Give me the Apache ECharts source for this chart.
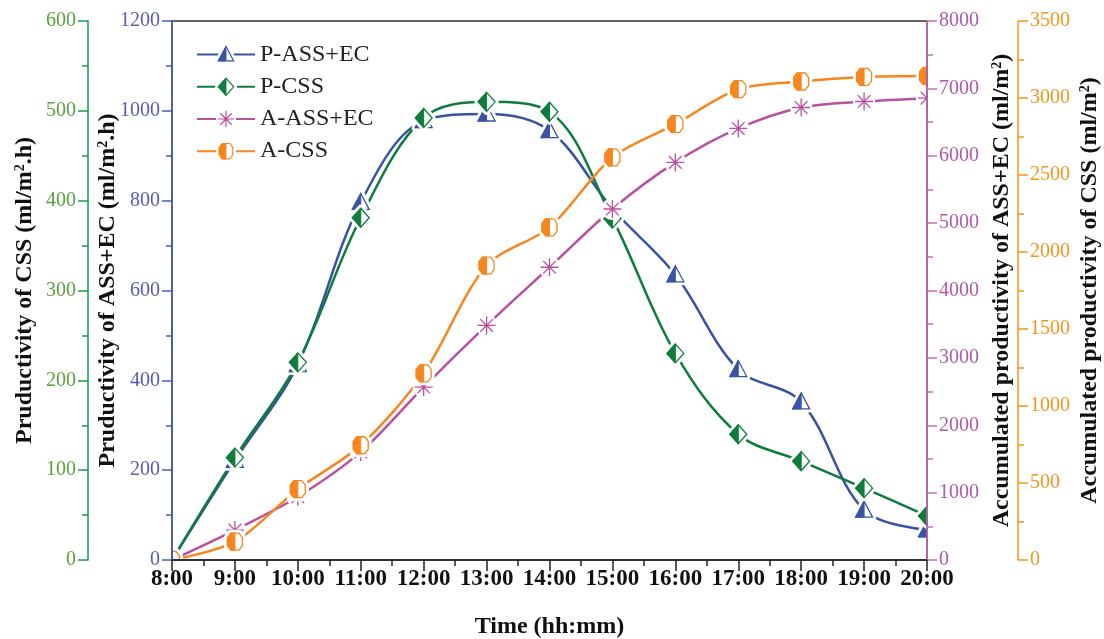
<!DOCTYPE html>
<html>
<head>
<meta charset="utf-8">
<script src="https://cdn.jsdelivr.net/npm/echarts@6/dist/echarts.min.js"></script>
<style>html,body{margin:0;padding:0;background:#fff;}#c{width:1104px;height:639px;}</style>
</head>
<body>
<div id="c"></div>
<script>
// ---- data ----
var hours = ['8:00','9:00','10:00','11:00','12:00','13:00','14:00','15:00','16:00','17:00','18:00','19:00','20:00'];
var pAssEc = [0, 222, 435, 796, 978, 993, 956, 782, 635, 424, 352, 111, 67];
var pCss   = [0, 114, 220, 381, 492, 510, 499, 380, 230, 140, 110, 80, 49];
var aAssEc = [0, 444, 938, 1604, 2567, 3481, 4345, 5210, 5901, 6405, 6716, 6805, 6855];
var aCss   = [0, 119, 460, 745, 1212, 1912, 2160, 2614, 2830, 3057, 3107, 3137, 3143];
var seriesNames = ['P-ASS+EC', 'P-CSS', 'A-ASS+EC', 'A-CSS'];

var BLUE = '#3953a4', GREEN = '#0e7d3c', PINK = '#b9519f', ORANGE = '#f7861f';

function img(svg) {
  return 'image://data:image/svg+xml;charset=utf-8,' + encodeURIComponent(svg);
}
function wrap(inner) {
  return '<svg xmlns="http://www.w3.org/2000/svg" width="30" height="30" viewBox="0 0 30 30">' + inner + '</svg>';
}
var triPts = '15,6 23.5,22 6.5,22';
var symTri = img(wrap(
  '<polygon points="' + triPts + '" fill="#fff" stroke="#fff" stroke-width="7" stroke-linejoin="round"/>' +
  '<polygon points="' + triPts + '" fill="#fff" stroke="' + BLUE + '" stroke-width="1.3"/>' +
  '<polygon points="15,6 15,22 6.5,22" fill="' + BLUE + '" stroke="' + BLUE + '" stroke-width="1"/>'));
var diaPts = '15,5.5 23.5,15 15,24.5 6.5,15';
var symDia = img(wrap(
  '<polygon points="' + diaPts + '" fill="#fff" stroke="#fff" stroke-width="7" stroke-linejoin="round"/>' +
  '<polygon points="' + diaPts + '" fill="#fff" stroke="' + GREEN + '" stroke-width="1.3"/>' +
  '<polygon points="15,5.5 15,24.5 6.5,15" fill="' + GREEN + '" stroke="' + GREEN + '" stroke-width="1"/>'));
var octPts = '11,6.5 19,6.5 22.5,11 22.5,19 19,23.5 11,23.5 7.5,19 7.5,11';
var symOct = img(wrap(
  '<polygon points="' + octPts + '" fill="#fff" stroke="#fff" stroke-width="7" stroke-linejoin="round"/>' +
  '<polygon points="' + octPts + '" fill="#fff" stroke="' + ORANGE + '" stroke-width="1.3"/>' +
  '<polygon points="11,6.5 15,6.5 15,23.5 11,23.5 7.5,19 7.5,11" fill="' + ORANGE + '" stroke="' + ORANGE + '" stroke-width="1"/>'));
var star = '';
for (var k = 0; k < 8; k++) {
  var a = k * Math.PI / 4;
  star += '<line x1="15" y1="15" x2="' + (15 + 9 * Math.cos(a)).toFixed(2) + '" y2="' + (15 + 9 * Math.sin(a)).toFixed(2) + '" stroke="' + PINK + '" stroke-width="1.3"/>';
}
var symStar = img(wrap('<circle cx="15" cy="15" r="11" fill="#fff"/>' + star + '<circle cx="15" cy="15" r="1.8" fill="' + PINK + '"/>'));

var serifFont = '"Liberation Serif", "DejaVu Serif", serif';
var nameRich = {
  s: { fontSize: 14, fontWeight: 'bold', fontFamily: serifFont, color: '#111', verticalAlign: 'top', padding: [0, 0, 10, 0] }
};
function plain(v) { return String(v); }
function yAxis(opts) {
  return Object.assign({
    type: 'value',
    z: 10,
    nameLocation: 'middle',
    nameRotate: 90,
    nameMoveOverlap: false,
    nameTextStyle: { fontSize: 24, fontWeight: 'bold', fontFamily: serifFont, color: '#111', rich: nameRich },
    axisLine: { show: true, lineStyle: { color: opts.lineColor, width: 1.5 } },
    axisTick: { show: true, length: 10, lineStyle: { color: opts.lineColor, width: 1.5 } },
    minorTick: { show: true, splitNumber: 2, length: 6, lineStyle: { color: opts.lineColor, width: 1.5 } },
    splitLine: { show: false },
    axisLabel: { color: opts.labelColor, fontSize: 20, fontFamily: serifFont, margin: 12, formatter: plain }
  }, opts.extra);
}

var chart = echarts.init(document.getElementById('c'), null, { renderer: 'canvas' });
var W = 1104, H = 639, GL = 172, GR = 927, GT = 21, GB = 560;
chart.setOption({
  backgroundColor: '#fff',
  animation: false,
  grid: { left: GL, right: W - GR, top: GT, bottom: H - GB, show: true, borderColor: '#333', borderWidth: 1.5, z: 10,
          outerBoundsMode: 'none', containLabel: false },
  graphic: [
    { type: 'rect', z: 5, silent: true, shape: { x: 0, y: 0, width: GL - 0.5, height: H }, style: { fill: '#fff' } },
    { type: 'rect', z: 5, silent: true, shape: { x: GR + 0.5, y: 0, width: W - GR, height: H }, style: { fill: '#fff' } },
    { type: 'rect', z: 5, silent: true, shape: { x: 0, y: GB + 0.5, width: W, height: H - GB }, style: { fill: '#fff' } },
    { type: 'rect', z: 5, silent: true, shape: { x: 0, y: 0, width: W, height: GT - 0.5 }, style: { fill: '#fff' } }
  ],
  legend: {
    orient: 'vertical',
    left: 191,
    top: 36,
    z: 12,
    itemWidth: 58,
    itemHeight: 34,
    itemGap: 5,
    data: seriesNames,
    textStyle: { fontSize: 24, fontFamily: serifFont, color: '#222' }
  },
  xAxis: [{
    type: 'category',
    z: 10,
    data: hours,
    boundaryGap: false,
    position: 'bottom',
    name: 'Time (hh:mm)',
    nameLocation: 'middle',
    nameGap: 55,
    nameMoveOverlap: false,
    nameTextStyle: { fontSize: 24, fontWeight: 'bold', fontFamily: serifFont, color: '#111' },
    axisLine: { lineStyle: { color: '#222', width: 1.5 } },
    axisTick: { length: 11, lineStyle: { color: '#222', width: 1.5 } },
    axisLabel: { fontSize: 23, fontWeight: 'bold', fontFamily: serifFont, color: '#111', margin: 8, interval: 0 }
  }, {
    type: 'value',
    z: 10,
    min: 0, max: 24, interval: 1,
    position: 'bottom',
    axisLine: { show: false },
    axisTick: { show: true, length: 6, lineStyle: { color: '#222', width: 1.5 } },
    axisLabel: { show: false },
    splitLine: { show: false }
  }],
  yAxis: [
    yAxis({ lineColor: '#4a5fb5', labelColor: '#5a5ab0', extra: {
      min: 0, max: 1200, interval: 200, position: 'left', offset: 0,
      name: 'Pruductivity of ASS+EC (ml/m{s|2}.h)', nameGap: 52 } }),
    yAxis({ lineColor: '#1a9a50', labelColor: '#5aa03c', extra: {
      min: 0, max: 600, interval: 100, position: 'left', offset: 84,
      name: 'Pruductivity of CSS (ml/m{s|2}.h)', nameGap: 51 } }),
    yAxis({ lineColor: '#c86cb8', labelColor: '#b05aa5', extra: {
      min: 0, max: 8000, interval: 1000, position: 'right', offset: 0,
      name: 'Accumulated productivity of ASS+EC (ml/m{s|2})', nameGap: 63 } }),
    yAxis({ lineColor: '#f7941d', labelColor: '#f7941d', extra: {
      min: 0, max: 3500, interval: 500, position: 'right', offset: 91,
      name: 'Accumulated productivity of CSS (ml/m{s|2})', nameGap: 60 } })
  ],
  series: [
    { name: seriesNames[0], type: 'line', yAxisIndex: 0, data: pAssEc, smooth: 0.35, clip: false, z: 2,
      symbol: symTri, symbolSize: 30, lineStyle: { color: BLUE, width: 2.5 }, itemStyle: { color: BLUE } },
    { name: seriesNames[1], type: 'line', yAxisIndex: 1, data: pCss, smooth: 0.35, clip: false, z: 2,
      symbol: symDia, symbolSize: 30, lineStyle: { color: GREEN, width: 2.5 }, itemStyle: { color: GREEN } },
    { name: seriesNames[2], type: 'line', yAxisIndex: 2, data: aAssEc, smooth: 0.3, clip: false, z: 2,
      symbol: symStar, symbolSize: 30, lineStyle: { color: PINK, width: 2.5 }, itemStyle: { color: PINK } },
    { name: seriesNames[3], type: 'line', yAxisIndex: 3, data: aCss, smooth: 0.3, clip: false, z: 2,
      symbol: symOct, symbolSize: 30, lineStyle: { color: ORANGE, width: 2.5 }, itemStyle: { color: ORANGE } }
  ]
});
</script>
</body>
</html>
